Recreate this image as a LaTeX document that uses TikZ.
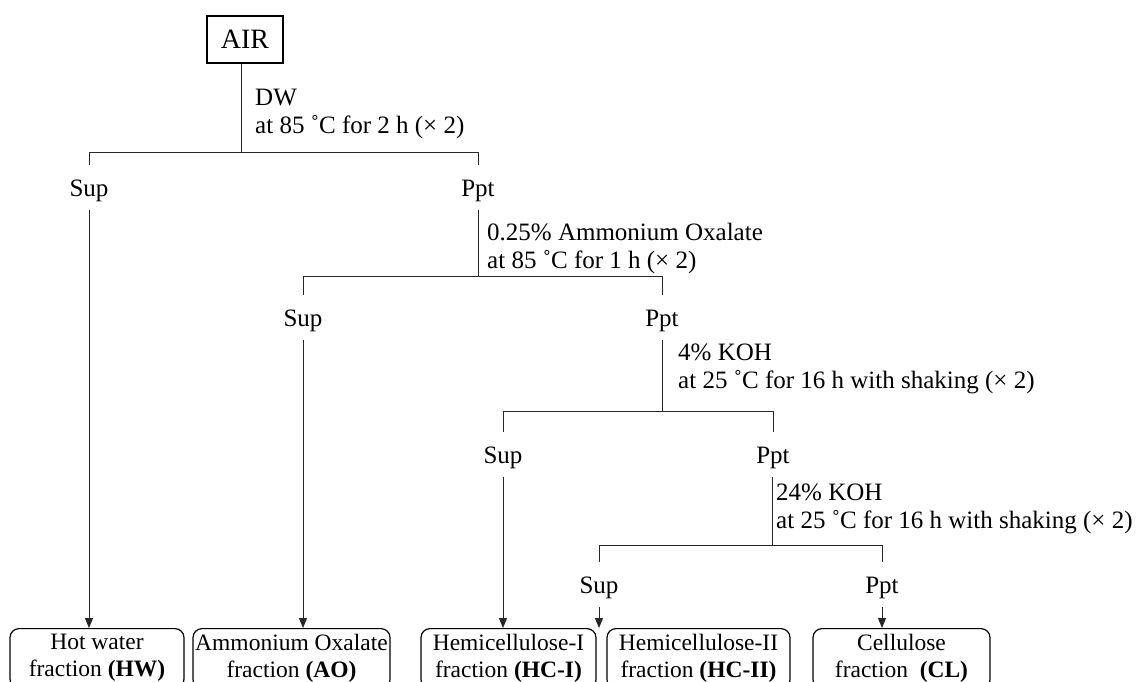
\documentclass[tikz,border=0pt]{standalone}
\usepackage{fontspec}
\setmainfont{Liberation Serif}
\usetikzlibrary{arrows.meta}
\tikzset{
  ln/.style={line width=1pt, draw=black!85},
  arr/.style={ln, -{Triangle[length=10pt,width=8pt]}},
  sp/.style={anchor=base, inner xsep=0pt, inner ysep=8pt, text height=23pt, text depth=5.4pt, font=\fontsize{25}{28}\selectfont},
  lab/.style={anchor=base west, inner sep=0pt, font=\fontsize{25}{28}\selectfont},
  fbox/.style={draw=black, line width=1.2pt, rounded corners=9pt, anchor=north, align=center, inner ysep=6pt, inner xsep=0pt, font=\fontsize{23.5}{27}\selectfont},
  airbox/.style={draw=black, line width=1.2pt, minimum width=76pt, minimum height=47pt, inner sep=0pt, font=\fontsize{28}{30}\selectfont}
}
\begin{document}
\begin{tikzpicture}[x=1pt,y=-1pt]
\useasboundingbox (0,0) rectangle (1141,681);
\clip (0,0) rectangle (1141,681);
% top
\node[airbox] (air) at (245,39.5) {AIR};
\coordinate (j1) at (241,152);
\coordinate (j2) at (478,276);
\coordinate (j3) at (662,411);
\coordinate (j4) at (772,545);
% level 1
\node[sp] (sup1) at (89,196) {Sup};
\node[sp] (ppt1) at (478,196) {Ppt};
\node[lab] (l1a) at (255,105) {DW};
\node[lab] (l1b) at (255,133) {at 85 ˚C for 2 h (× 2)};
% level 2
\node[sp] (sup2) at (303,326) {Sup};
\node[sp] (ppt2) at (662,326) {Ppt};
\node[lab] (l2a) at (487,240) {0.25\% Ammonium Oxalate};
\node[lab] (l2b) at (487,268) {at 85 ˚C for 1 h (× 2)};
% level 3
\node[sp] (sup3) at (503,463) {Sup};
\node[sp] (ppt3) at (773,463) {Ppt};
\node[lab] (l3a) at (678,360) {4\% KOH};
\node[lab] (l3b) at (678,388) {at 25 ˚C for 16 h with shaking (× 2)};
% level 4
\node[sp] (sup4) at (599,593) {Sup};
\node[sp] (ppt4) at (882,593) {Ppt};
\node[lab] (l4a) at (776,500) {24\% KOH};
\node[lab] (l4b) at (776,528) {at 25 ˚C for 16 h with shaking (× 2)};
% boxes
\node[fbox, minimum width=174pt] (hw) at (97,628) {Hot water\\fraction \textbf{(HW)}};
\node[fbox, minimum width=197pt] (ao) at (291.5,628) {Ammonium Oxalate\\fraction \textbf{(AO)}};
\node[fbox, minimum width=175pt] (hc1) at (508.5,628) {Hemicellulose-I\\fraction \textbf{(HC-I)}};
\node[fbox, minimum width=183pt] (hc2) at (698.5,628) {Hemicellulose-II\\fraction \textbf{(HC-II)}};
\node[fbox, minimum width=177pt] (cl) at (901.5,628) {Cellulose\\fraction\ \ \textbf{(CL)}};
% connectors
\draw[ln] (air.south -| j1) -- (j1);
\draw[ln] (sup1.north) -- (sup1.north |- j1) -- (ppt1.north |- j1) -- (ppt1.north);
\draw[ln] (ppt1.south) -- (j2);
\draw[ln] (sup2.north) -- (sup2.north |- j2) -- (ppt2.north |- j2) -- (ppt2.north);
\draw[ln] (ppt2.south) -- (j3);
\draw[ln] (sup3.north) -- (sup3.north |- j3) -- (ppt3.north |- j3) -- (ppt3.north);
\draw[ln] (ppt3.south -| j4) -- (j4);
\draw[ln] (sup4.north) -- (sup4.north |- j4) -- (ppt4.north |- j4) -- (ppt4.north);
\draw[arr] (sup1.south) -- (sup1.south |- hw.north);
\draw[arr] (sup2.south) -- (sup2.south |- ao.north);
\draw[arr] (sup3.south) -- (sup3.south |- hc1.north);
\draw[arr] (sup4.south) -- (sup4.south |- hc2.north);
\draw[arr] (ppt4.south) -- (ppt4.south |- cl.north);
\end{tikzpicture}
\end{document}
